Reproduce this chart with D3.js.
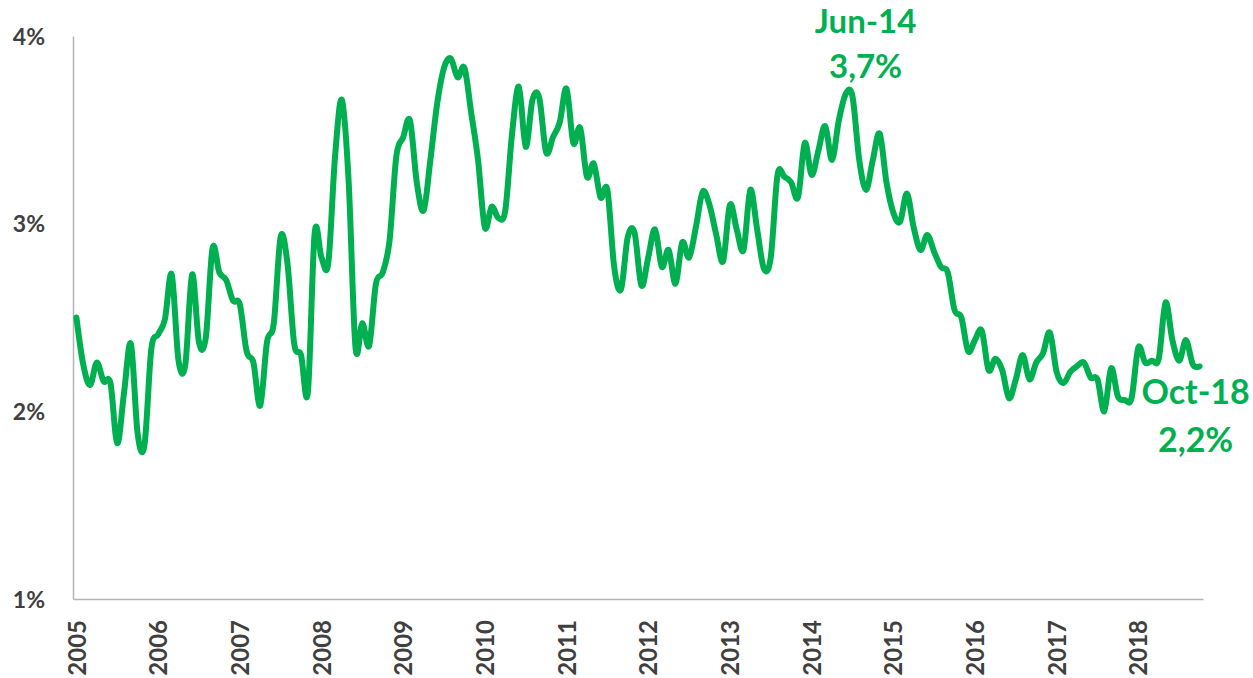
<!DOCTYPE html>
<html>
<head>
<meta charset="utf-8">
<script src="https://cdn.jsdelivr.net/npm/d3@7"></script>
<style>
  html, body { margin: 0; padding: 0; background: #fff; }
  svg { display: block; }
  text { font-family: Lato, "Open Sans", sans-serif; font-weight: bold; }
</style>
</head>
<body>
<svg id="chart" width="1253" height="678"></svg>
<script>
// Monthly values, Jan-2005 .. Oct-2018 (%)
const values = [
  2.50, 2.25, 2.14, 2.26, 2.16, 2.15, 1.83, 2.10, 2.36, 1.88, 1.82, 2.33,
  2.41, 2.49, 2.73, 2.27, 2.25, 2.73, 2.37, 2.39, 2.87, 2.74, 2.70, 2.59,
  2.57, 2.32, 2.26, 2.03, 2.37, 2.47, 2.93, 2.79, 2.36, 2.30, 2.10, 2.95,
  2.82, 2.79, 3.36, 3.66, 3.22, 2.34, 2.47, 2.35, 2.68, 2.74, 2.91, 3.36,
  3.46, 3.55, 3.22, 3.07, 3.34, 3.64, 3.83, 3.88, 3.78, 3.83, 3.59, 3.34,
  2.98, 3.09, 3.03, 3.07, 3.48, 3.73, 3.41, 3.66, 3.67, 3.38, 3.46, 3.54,
  3.72, 3.43, 3.51, 3.25, 3.32, 3.14, 3.18, 2.77, 2.65, 2.93, 2.95, 2.67,
  2.82, 2.97, 2.77, 2.86, 2.68, 2.90, 2.82, 2.98, 3.17, 3.10, 2.94, 2.80,
  3.10, 2.97, 2.86, 3.18, 2.97, 2.76, 2.82, 3.26, 3.25, 3.22, 3.14, 3.43,
  3.26, 3.39, 3.52, 3.34, 3.55, 3.69, 3.68, 3.34, 3.18, 3.34, 3.48, 3.22,
  3.06, 3.01, 3.16, 2.98, 2.86, 2.94, 2.85, 2.77, 2.74, 2.54, 2.50, 2.32,
  2.38, 2.43, 2.22, 2.28, 2.22, 2.07, 2.17, 2.30, 2.17, 2.26, 2.31, 2.42,
  2.21, 2.15, 2.21, 2.24, 2.26, 2.18, 2.17, 2.00, 2.23, 2.08, 2.06, 2.07,
  2.34, 2.26, 2.27, 2.28, 2.58, 2.38, 2.27, 2.38, 2.25, 2.24
];
const yearLabels = ["2005","2006","2007","2008","2009","2010","2011","2012","2013","2014","2015","2016","2017","2018"];
const yTicks = [1, 2, 3, 4];
const annotations = [
  { month: "Jun-14", text: "3,7%" },
  { month: "Oct-18", text: "2,2%" }
];

// Category labels (months)
const fmt = d3.timeFormat("%b-%y");
const months = d3.timeMonth.range(new Date(2005, 0, 1), new Date(2018, 10, 1)).map(fmt);
const data = months.map((m, i) => ({ m, v: values[i] }));

const green = "#00B050";
const grey = "#404040";
const svg = d3.select("#chart");

const x = d3.scalePoint().domain(months).range([73, 1203]).padding(0.5);
const y = d3.scaleLinear().domain([1, 4]).range([599, 36]);

// Y axis
const yAxis = svg.append("g").attr("transform", "translate(73,0)")
  .call(d3.axisLeft(y).tickValues(yTicks).tickSize(0).tickSizeOuter(0).tickPadding(28).tickFormat(d => d + "%"));
yAxis.select(".domain").attr("stroke", "#b5b5b5").attr("stroke-width", 1.5);
yAxis.selectAll("text").attr("fill", grey).style("font-size", "23px").attr("dy", "0.36em");

// X axis
const janTicks = months.filter(m => m.startsWith("Jan"));
const xAxis = svg.append("g").attr("transform", "translate(0,599)")
  .call(d3.axisBottom(x).tickValues(janTicks).tickSize(0).tickSizeOuter(0)
    .tickFormat((d, i) => yearLabels[i]));
xAxis.select(".domain").attr("stroke", "#b5b5b5").attr("stroke-width", 1.5);
xAxis.selectAll("text")
  .attr("fill", grey).style("font-size", "24px")
  .attr("transform", "rotate(-90)")
  .attr("text-anchor", "end")
  .attr("x", -21).attr("y", 0).attr("dy", "0.36em");

// Line
const line = d3.line().x(d => x(d.m)).y(d => y(d.v)).curve(d3.curveCardinal.tension(0));
svg.append("path").datum(data)
  .attr("fill", "none").attr("stroke", green).attr("stroke-width", 6)
  .attr("stroke-linejoin", "round").attr("stroke-linecap", "round")
  .attr("d", line);

// Annotations
const a1 = annotations[0];
const g1 = svg.append("g").attr("fill", green).attr("text-anchor", "middle").style("font-size", "33px");
g1.append("text").attr("x", x(a1.month) + 20).attr("y", 33).text(a1.month);
g1.append("text").attr("x", x(a1.month) + 20).attr("y", 78).text(a1.text);

const a2 = annotations[1];
const g2 = svg.append("g").attr("fill", green).attr("text-anchor", "middle").style("font-size", "34px");
g2.append("text").attr("x", x(a2.month) - 4).attr("y", 404).text(a2.month);
g2.append("text").attr("x", x(a2.month) - 4).attr("y", 452).text(a2.text);
</script>
</body>
</html>
